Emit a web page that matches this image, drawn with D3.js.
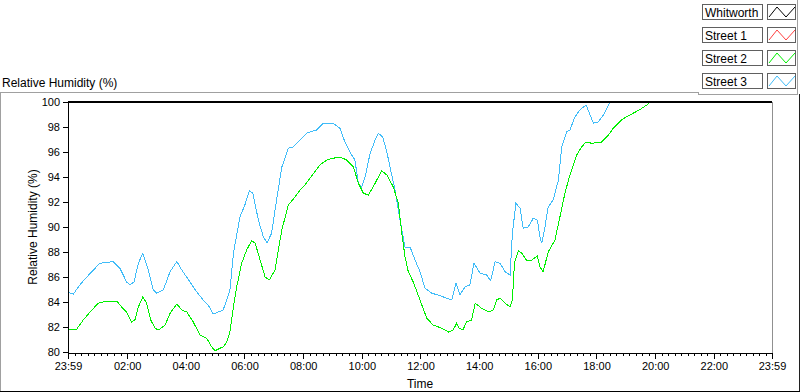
<!DOCTYPE html>
<html><head><meta charset="utf-8">
<script src="https://cdn.jsdelivr.net/npm/d3@7"></script>
<style>
html,body{margin:0;padding:0;background:#fff;}
svg{display:block;font-family:"Liberation Sans",Arial,sans-serif;}
</style></head>
<body><svg id="c" width="800" height="392"></svg>
<script>
// ---- data (hours after 23:59 start, RH %) ----
const seriesNames = ["Whitworth", "Street 1", "Street 2", "Street 3"];
const seriesColors = ["#000000", "#ff4040", "#00f000", "#40bcf8"];

const whitworthTime = [0, 24];
const whitworthRH = [100, 100];

const street1Time = [];
const street1RH = [];

const street2Time = [0.0,0.30,0.52,0.75,1.03,1.32,1.66,1.83,2.00,2.17,2.28,2.40,2.55,2.68,2.82,2.97,3.08,3.31,3.48,3.71,3.88,4.05,4.27,4.50,4.73,4.90,5.01,5.18,5.29,5.41,5.52,5.64,5.75,5.92,6.09,6.26,6.38,6.55,6.72,6.86,7.06,7.17,7.29,7.51,7.74,7.91,8.02,8.25,8.59,8.82,9.04,9.27,9.50,9.73,9.90,10.07,10.24,10.47,10.69,10.87,11.09,11.26,11.38,11.49,11.60,11.77,12.00,12.23,12.45,12.74,12.97,13.13,13.25,13.34,13.46,13.59,13.76,13.88,14.10,14.36,14.50,14.61,14.73,14.90,15.07,15.15,15.22,15.35,15.47,15.64,15.81,16.00,16.09,16.20,16.37,16.60,16.77,16.94,17.11,17.34,17.51,17.66,17.85,18.19,18.42,18.59,18.88,19.22,19.50,19.73,19.86];
const street2RH = [81.84,81.84,82.56,83.2,83.9,84.08,84.08,83.6,83.2,82.4,82.56,83.6,84.4,83.9,82.56,81.9,81.76,82.16,83.1,83.84,83.36,83.2,82.4,81.36,81.1,80.4,80.1,80.3,80.4,80.8,81.6,83.6,85.2,87.1,88.16,88.9,88.7,87.36,86.0,85.76,86.56,88.16,89.76,91.76,92.4,92.96,93.2,93.9,94.96,95.36,95.5,95.6,95.36,94.8,93.5,92.7,92.56,93.5,94.5,94.16,93.2,91.9,89.5,87.6,86.43,85.6,84.16,82.7,82.16,81.9,81.6,81.76,82.3,81.9,81.76,82.4,82.56,83.9,83.5,83.2,83.36,84.16,84.3,83.9,83.6,84.16,87.1,88.1,87.9,87.3,87.36,87.7,86.8,86.43,88.0,88.96,90.8,92.7,94.16,95.76,96.4,96.8,96.7,96.8,97.36,97.9,98.6,99.04,99.4,99.76,100];

const street3Time = [0.0,0.18,0.47,0.81,1.09,1.54,1.77,2.00,2.11,2.25,2.40,2.55,2.74,2.91,3.02,3.25,3.48,3.71,3.88,4.16,4.39,4.61,4.78,4.95,5.12,5.29,5.41,5.52,5.64,5.86,6.03,6.18,6.30,6.49,6.66,6.79,6.94,7.11,7.29,7.51,7.68,7.91,8.14,8.25,8.48,8.70,9.04,9.27,9.44,9.61,9.78,9.90,10.01,10.13,10.30,10.47,10.58,10.73,10.87,11.00,11.15,11.26,11.38,11.49,11.66,11.83,12.00,12.17,12.40,12.62,12.91,13.08,13.23,13.36,13.53,13.70,13.84,14.05,14.27,14.41,14.56,14.73,14.90,15.07,15.15,15.27,15.41,15.52,15.69,15.86,16.00,16.09,16.15,16.26,16.37,16.54,16.72,16.83,17.00,17.11,17.28,17.45,17.66,17.80,17.91,18.08,18.25,18.42,18.50];
const street3RH = [84.78,84.64,85.55,86.43,87.1,87.23,86.7,85.6,85.36,85.6,87.1,87.9,86.56,84.96,84.7,84.96,86.43,87.23,86.56,85.6,84.8,84.16,83.76,83.04,83.2,83.36,84.16,84.96,87.9,90.8,91.76,92.9,92.7,90.56,89.2,88.75,89.5,92.16,94.8,96.3,96.4,96.96,97.5,97.6,97.76,98.3,98.3,97.9,96.8,96.0,95.36,93.5,93.2,94.0,95.9,96.96,97.5,97.2,96.0,94.56,92.96,91.36,89.76,88.4,88.4,87.36,86.43,85.1,84.7,84.56,84.3,84.16,85.5,84.56,85.2,85.36,87.1,86.3,86.16,85.7,87.23,87.1,86.43,86.16,89.5,91.9,91.5,89.9,90.0,90.7,90.56,89.2,88.7,90.0,91.6,92.16,93.76,96.4,97.6,97.76,98.8,99.36,99.76,98.96,98.3,98.4,98.96,99.76,100];

const xTickLabels = ["23:59","02:00","04:00","06:00","08:00","10:00","12:00","14:00","16:00","18:00","20:00","22:00","23:59"];
const yTickValues = [80,82,84,86,88,90,92,94,96,98,100];

// ---- layout ----
const svg = d3.select("#c");
const L = 68, R = 772, T = 102, B = 352;
const x = d3.scaleLinear().domain([0, 24]).range([L, R]);
const y = d3.scaleLinear().domain([80, 100]).range([B, T]);

// outer frame lines
svg.append("line").attr("x1",0).attr("x2",698).attr("y1",92.5).attr("y2",92.5).attr("stroke","#a0a0a0");
svg.append("line").attr("x1",698).attr("x2",798).attr("y1",94.5).attr("y2",94.5).attr("stroke","#a0a0a0");
svg.append("line").attr("x1",698.5).attr("x2",698.5).attr("y1",92).attr("y2",95).attr("stroke","#a0a0a0");
svg.append("line").attr("x1",797.5).attr("x2",797.5).attr("y1",0).attr("y2",95).attr("stroke","#a0a0a0");
svg.append("line").attr("x1",0.5).attr("x2",0.5).attr("y1",92).attr("y2",392).attr("stroke","#a0a0a0");
svg.append("line").attr("x1",799.5).attr("x2",799.5).attr("y1",94).attr("y2",392).attr("stroke","#202020");
svg.append("line").attr("x1",0).attr("x2",800).attr("y1",391.5).attr("y2",391.5).attr("stroke","#000");

// title
svg.append("text").attr("x",2).attr("y",87).attr("font-size",12).attr("fill","#000").text("Relative Humidity (%)");

// plot frame right
svg.append("line").attr("x1",R+0.5).attr("x2",R+0.5).attr("y1",T).attr("y2",B+1).attr("stroke","#909090");

// clip
svg.append("clipPath").attr("id","clip").append("rect").attr("x",L).attr("y",T-2).attr("width",R-L).attr("height",B-T+2);
const plot = svg.append("g").attr("clip-path","url(#clip)");

function drawSeries(times, vals, color, width) {
  if (!times.length) return;
  const data = times.map((t,i)=>[t, vals[i]]);
  plot.append("path").datum(data)
    .attr("fill","none").attr("stroke",color).attr("stroke-width",width)
    .attr("shape-rendering","crispEdges")
    .attr("d", d3.line().x(d=>x(d[0])).y(d=>y(d[1])));
}
drawSeries(street3Time, street3RH, seriesColors[3], 1);
drawSeries(street2Time, street2RH, seriesColors[2], 1);
drawSeries(street1Time, street1RH, seriesColors[1], 1);
drawSeries(whitworthTime, whitworthRH, seriesColors[0], 2);

// y axis
const yAxis = d3.axisLeft(y).tickValues(yTickValues).tickSize(5).tickPadding(3).tickFormat(d3.format("d"));
const gy = svg.append("g").attr("transform",`translate(${L},0)`).call(yAxis);
gy.select(".domain").attr("d",`M0.5,${T}V${B+1}`).attr("stroke","#000");
gy.selectAll(".tick line").attr("stroke","#000");
gy.selectAll("text").attr("font-size",11).attr("font-family","Liberation Sans, Arial, sans-serif").attr("fill","#000");

// x axis
const majorT = xTickLabels.map((_,i)=> i===0 ? 0 : (i===xTickLabels.length-1 ? 24 : 2*i + 1/60));
const minorT = [];
for (let k=0; k<12; k++) {
  const a = k===0 ? 0 : 2*k + 1/60;
  const b = k===11 ? 24 : 2*(k+1) + 1/60;
  for (let j=1; j<9; j++) minorT.push(a + (b-a)*j/9);
}
const gx = svg.append("g").attr("transform",`translate(0,${B+1})`);
gx.append("line").attr("x1",L).attr("x2",R+1).attr("y1",0.5).attr("y2",0.5).attr("stroke","#000");
const xAxisMajor = d3.axisBottom(x).tickValues(majorT).tickSize(6).tickPadding(3)
  .tickFormat((d,i)=>xTickLabels[i]);
const gxm = gx.append("g").call(xAxisMajor);
gxm.select(".domain").remove();
gxm.selectAll(".tick line").attr("stroke","#000").attr("shape-rendering","crispEdges");
gxm.selectAll("text").attr("font-size",11).attr("font-family","Liberation Sans, Arial, sans-serif").attr("fill","#000");
const xAxisMinor = d3.axisBottom(x).tickValues(minorT).tickSize(3).tickFormat("");
const gxn = gx.append("g").call(xAxisMinor);
gxn.select(".domain").remove();
gxn.selectAll(".tick line").attr("stroke","#000").attr("shape-rendering","crispEdges");

// axis titles
svg.append("text").attr("x",(L+R)/2).attr("y",388).attr("text-anchor","middle").attr("font-size",12).text("Time");
svg.append("text").attr("transform",`translate(37,${(T+B)/2}) rotate(-90)`).attr("text-anchor","middle").attr("font-size",12).text("Relative Humidity (%)");

// legend
const lg = svg.append("g");
seriesNames.forEach((name,i)=>{
  const top = 4 + i*23.1;
  const g = lg.append("g").attr("transform",`translate(0,${Math.round(top)})`);
  g.append("rect").attr("x",702.5).attr("y",0.5).attr("width",60).attr("height",15).attr("fill","#fff").attr("stroke","#606060");
  g.append("text").attr("x",705).attr("y",12.5).attr("font-size",12).attr("fill","#000").text(name);
  g.append("rect").attr("x",767.5).attr("y",0.5).attr("width",28).attr("height",15).attr("fill","#fff").attr("stroke","#606060");
  g.append("path").attr("d","M769,13L777,3L786,13L795,3").attr("fill","none").attr("stroke",seriesColors[i]).attr("stroke-width",1);
});
</script></body></html>
